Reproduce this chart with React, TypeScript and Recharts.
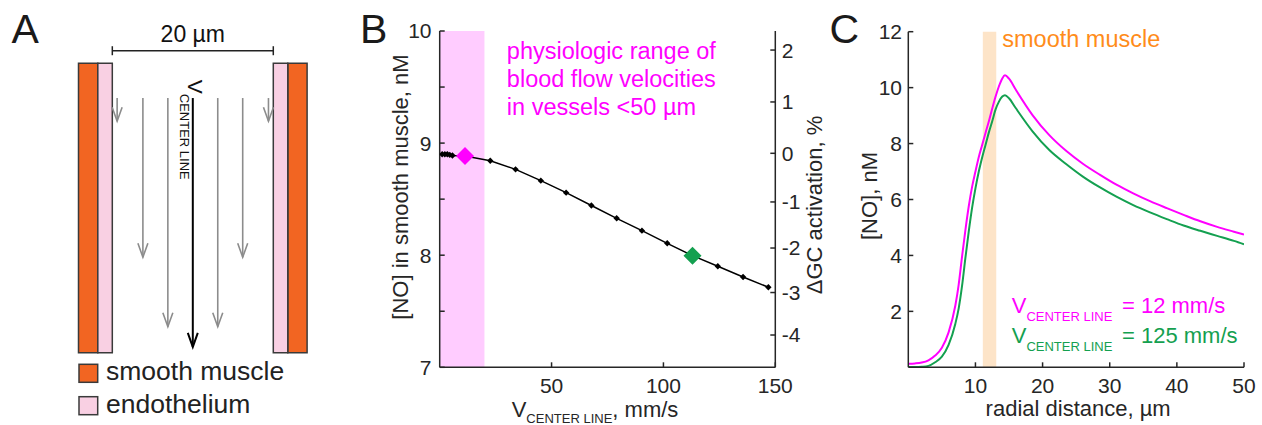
import React from 'react';
import {
  ComposedChart,
  Line,
  XAxis,
  YAxis,
  ReferenceArea,
  ReferenceLine,
} from 'recharts';

const FONT = '"Liberation Sans", Arial, Helvetica, sans-serif';
const INK = '#262626';
const MAGENTA = '#ff00ff';
const GREEN = '#14a050';
const MUSCLE = '#f26522';
const ENDO = '#f9d0e3';
const EDGE = '#3a3a3a';
const ARROW_GRAY = '#8c8c8c';

// ---- A: vessel schematic (x: µm from centre line, y: % of drawn vessel length)
const muscleLayers = [[-14.2, -11.8], [11.8, 14.2]];
const endoLayers = [[-11.8, -10], [10, 11.8]];
const lumenEdges = [-10, 10];
const flowX = [-9.4, -6.2, -3.1, 0, 3.1, 6.2, 9.4];
const flowEnd = [20, 67, 91, 98, 91, 67, 20];
const flowStart = 12;
const scaleBarLevel = -4.35;

// ---- B: [NO] in smooth muscle vs centre-line velocity
const velocity = [1.1, 2.3, 3.4, 4.5, 5.7, 11.3, 22.6, 33.9, 45.2, 56.5, 67.8, 79.1, 90.4, 101.7, 113, 124.3, 135.6, 146.9];
const noInMuscle = [8.9, 8.9, 8.9, 8.895, 8.89, 8.885, 8.843, 8.766, 8.665, 8.558, 8.443, 8.329, 8.219, 8.106, 7.996, 7.901, 7.806, 7.714];
const slowVelocity = 11.3;
const fastVelocity = 113;
const physioRange = [0, 20];
const noTicks = [7, 7.5, 8, 8.5, 9, 9.5, 10];
const velocityTicks = [50, 100, 150];
const gcLabels = [2, 1, 0, -1, -2, -3, -4];
const gcAtNO = [9.83, 9.367, 8.909, 8.475, 8.064, 7.667, 7.288];

// ---- C: radial [NO] profiles
const radial = [0, 1, 2, 3, 4, 5, 6, 7, 7.5, 8, 8.5, 9, 9.5, 10, 10.5, 11, 11.5, 12, 12.5, 13, 13.5, 14, 14.4, 15, 16, 18.5, 21, 23.5, 26, 28.5, 31, 33.5, 36, 38.5, 41, 43.5, 46, 48.5, 50];
const noSlowFlow = [0.13, 0.14, 0.17, 0.25, 0.42, 0.7, 1.25, 2.2, 2.95, 3.95, 4.9, 5.75, 6.45, 7.0, 7.52, 7.95, 8.38, 8.8, 9.25, 9.68, 10.05, 10.33, 10.44, 10.32, 9.93, 9.02, 8.3, 7.74, 7.28, 6.89, 6.53, 6.22, 5.94, 5.69, 5.45, 5.22, 5.02, 4.85, 4.75];
const noFastFlow = [0.01, 0.01, 0.02, 0.05, 0.18, 0.38, 0.8, 1.55, 2.1, 2.9, 3.9, 4.85, 5.7, 6.4, 7.0, 7.5, 7.95, 8.4, 8.8, 9.22, 9.5, 9.68, 9.73, 9.62, 9.27, 8.44, 7.77, 7.27, 6.82, 6.44, 6.1, 5.8, 5.54, 5.3, 5.07, 4.88, 4.7, 4.52, 4.4];
const muscleBand = [11.1, 13.1];
const radialTicks = [10, 20, 30, 40, 50];
const cNoTicks = [2, 4, 6, 8, 10, 12];
const legendC = [
  { text: '= 12 mm/s', color: MAGENTA },
  { text: '= 125 mm/s', color: GREEN },
];

const axisLine = { stroke: INK, strokeWidth: 1.5 };
const tickText = { fontSize: 21, fill: INK, fontFamily: FONT };

function Diamond({ cx, cy, r, fill }: any) {
  if (cx == null || cy == null) return null;
  return <path d={`M${cx},${cy - r}L${cx + r},${cy}L${cx},${cy + r}L${cx - r},${cy}Z`} fill={fill} />;
}

function FlowArrow(props: any) {
  const { x1, y1, x2, y2, color, width, withLabel } = props;
  return (
    <g>
      <line x1={x1} y1={y1} x2={x2} y2={y2} stroke={color} strokeWidth={width} />
      <polyline
        points={`${x2 - 5},${y2 - 14} ${x2},${y2} ${x2 + 5},${y2 - 14}`}
        fill="none"
        stroke={color}
        strokeWidth={width}
      />
      {withLabel && (
        <text transform={`translate(${x1 - 4.7},${y1 - 18.3}) rotate(90)`} fontSize={21} fill="#111" fontFamily={FONT}>
          V<tspan fontSize={13} dy={8}>CENTER LINE</tspan>
        </text>
      )}
    </g>
  );
}

function ScaleBar(props: any) {
  const { x1, y1, x2, y2 } = props;
  return (
    <g>
      <g stroke="#222" strokeWidth={1.5}>
        <line x1={x1} y1={y1} x2={x2} y2={y2} />
        <line x1={x1} y1={y1 - 4.5} x2={x1} y2={y1 + 4.5} />
        <line x1={x2} y1={y2 - 4.5} x2={x2} y2={y2 + 4.5} />
      </g>
      <text x={(x1 + x2) / 2} y={y1 - 9} textAnchor="middle" fontSize={23} fill="#111" fontFamily={FONT}>
        {`${lumenEdges[1] - lumenEdges[0]} µm`}
      </text>
    </g>
  );
}

function PanelA() {
  const walls = [
    ...muscleLayers.map((b) => ({ b, fill: MUSCLE })),
    ...endoLayers.map((b) => ({ b, fill: ENDO })),
  ];
  return (
    <ComposedChart width={360} height={360} margin={{ top: 19.9, right: 52.9, bottom: 7.3, left: 78.5 }}>
      <XAxis type="number" dataKey="x" domain={[-14.2, 14.2]} hide allowDataOverflow />
      <YAxis type="number" domain={[-15, 100]} reversed hide allowDataOverflow />
      {walls.map((w, i) => (
        <ReferenceArea
          key={`wall-${i}`}
          x1={w.b[0]}
          x2={w.b[1]}
          y1={0}
          y2={100}
          fill={w.fill}
          fillOpacity={1}
          stroke={EDGE}
          strokeWidth={1.5}
          ifOverflow="visible"
        />
      ))}
      {flowX.map((x, i) => (
        <ReferenceLine
          key={`flow-${i}`}
          segment={[{ x, y: flowStart }, { x, y: flowEnd[i] }]}
          ifOverflow="visible"
          shape={(p: any) => (
            <FlowArrow
              {...p}
              color={x === 0 ? '#000' : ARROW_GRAY}
              width={x === 0 ? 2 : 1.6}
              withLabel={x === 0}
            />
          )}
        />
      ))}
      <ReferenceLine
        segment={[{ x: lumenEdges[0], y: scaleBarLevel }, { x: lumenEdges[1], y: scaleBarLevel }]}
        ifOverflow="visible"
        shape={(p: any) => <ScaleBar {...p} />}
      />
    </ComposedChart>
  );
}

function PanelB() {
  const data = velocity.map((v, i) => ({ v, no: noInMuscle[i] }));
  const slow = data.filter((d) => d.v === slowVelocity);
  const fast = data.filter((d) => d.v === fastVelocity);
  return (
    <ComposedChart width={470} height={425} data={data} margin={{ top: 31, right: 14.7, bottom: 7.7, left: 0 }}>
      <XAxis
        type="number"
        dataKey="v"
        domain={[0, 150]}
        ticks={velocityTicks}
        interval={0}
        height={50}
        allowDataOverflow
        axisLine={axisLine}
        tickLine={axisLine}
        tickSize={-5}
        tickMargin={15.5}
        tick={tickText}
        label={(p: any) => {
          const vb = p.viewBox || {};
          return (
            <text x={vb.x + 155.3} y={vb.y + 49.2} textAnchor="middle" fontSize={22} fill={INK} fontFamily={FONT}>
              V<tspan fontSize={13} dy={6.5}>CENTER LINE</tspan>
              <tspan dy={-6.5}>, mm/s</tspan>
            </text>
          );
        }}
      />
      <YAxis
        yAxisId="no"
        domain={[7, 10]}
        ticks={noTicks}
        interval={0}
        width={79.7}
        allowDataOverflow
        axisLine={axisLine}
        tickLine={axisLine}
        tickSize={-5}
        tickMargin={13.2}
        tick={tickText}
        tickFormatter={(v: number) => (Number.isInteger(v) ? String(v) : '')}
        label={(p: any) => {
          const vb = p.viewBox || {};
          return (
            <text
              transform={`translate(${vb.x + 48},${vb.y + 156}) rotate(-90)`}
              textAnchor="middle"
              fontSize={22}
              fill={INK}
              fontFamily={FONT}
            >
              [NO] in smooth muscle, nM
            </text>
          );
        }}
      />
      <YAxis
        yAxisId="gc"
        orientation="right"
        domain={[7, 10]}
        ticks={gcAtNO}
        interval={0}
        width={40}
        allowDataOverflow
        axisLine={axisLine}
        tickLine={axisLine}
        tickSize={-5}
        tickMargin={11.4}
        tick={tickText}
        tickFormatter={(v: number) => String(gcLabels[gcAtNO.indexOf(v)])}
        label={(p: any) => {
          const vb = p.viewBox || {};
          return (
            <text
              transform={`translate(${vb.x + 46.7},${vb.y + 174}) rotate(-90)`}
              textAnchor="middle"
              fontSize={22}
              fill={INK}
              fontFamily={FONT}
            >
              ΔGC activation, %
            </text>
          );
        }}
      />
      <ReferenceArea
        yAxisId="no"
        x1={physioRange[0]}
        x2={physioRange[1]}
        y1={7}
        y2={10}
        fill="#ffccff"
        fillOpacity={1}
        stroke="none"
        label={(p: any) => {
          const vb = p.viewBox || {};
          const x = vb.x + vb.width + 22.4;
          return (
            <text fontSize={23.5} fill={MAGENTA} fontFamily={FONT}>
              <tspan x={x} y={vb.y + 27.7}>physiologic range of</tspan>
              <tspan x={x} y={vb.y + 56}>blood flow velocities</tspan>
              <tspan x={x} y={vb.y + 84.3}>in vessels &lt;50 µm</tspan>
            </text>
          );
        }}
      />
      <Line
        yAxisId="no"
        dataKey="no"
        stroke="#000"
        strokeWidth={1.5}
        isAnimationActive={false}
        dot={(p: any) => <Diamond key={`b-${p.index}`} cx={p.cx} cy={p.cy} r={3.2} fill="#000" />}
        activeDot={false}
      />
      <Line
        yAxisId="no"
        data={slow}
        dataKey="no"
        stroke="none"
        strokeWidth={0}
        isAnimationActive={false}
        dot={(p: any) => <Diamond key={`s-${p.index}`} cx={p.cx} cy={p.cy} r={9} fill={MAGENTA} />}
        activeDot={false}
      />
      <Line
        yAxisId="no"
        data={fast}
        dataKey="no"
        stroke="none"
        strokeWidth={0}
        isAnimationActive={false}
        dot={(p: any) => <Diamond key={`f-${p.index}`} cx={p.cx} cy={p.cy} r={9} fill={GREEN} />}
        activeDot={false}
      />
    </ComposedChart>
  );
}

function PanelC() {
  const data = radial.map((r, i) => ({ r, slow: noSlowFlow[i], fast: noFastFlow[i] }));
  return (
    <ComposedChart width={432} height={425} data={data} margin={{ top: 31.7, right: 18, bottom: 7.7, left: 0 }}>
      <XAxis
        type="number"
        dataKey="r"
        domain={[0, 50]}
        ticks={radialTicks}
        interval={0}
        height={50}
        allowDataOverflow
        axisLine={axisLine}
        tickLine={axisLine}
        tickSize={-5}
        tickMargin={15.5}
        tick={tickText}
        label={(p: any) => {
          const vb = p.viewBox || {};
          return (
            <text x={vb.x + vb.width / 2 + 2} y={vb.y + 48.7} textAnchor="middle" fontSize={22} fill={INK} fontFamily={FONT}>
              radial distance, µm
            </text>
          );
        }}
      />
      <YAxis
        domain={[0, 12]}
        ticks={cNoTicks}
        interval={0}
        width={78.3}
        allowDataOverflow
        axisLine={axisLine}
        tickLine={axisLine}
        tickSize={-5}
        tickMargin={11.3}
        tick={tickText}
        label={(p: any) => {
          const vb = p.viewBox || {};
          return (
            <text
              transform={`translate(${vb.x + 47},${vb.y + 164.3}) rotate(-90)`}
              textAnchor="middle"
              fontSize={22}
              fill={INK}
              fontFamily={FONT}
            >
              [NO], nM
            </text>
          );
        }}
      />
      <ReferenceArea
        x1={muscleBand[0]}
        x2={muscleBand[1]}
        y1={0}
        y2={12}
        fill="#fde4c8"
        fillOpacity={1}
        stroke="none"
        label={(p: any) => {
          const vb = p.viewBox || {};
          return (
            <text x={vb.x + vb.width + 6} y={vb.y + 15.3} fontSize={23.5} fill="#ff8c1a" fontFamily={FONT}>
              smooth muscle
            </text>
          );
        }}
      />
      <Line type="monotone" dataKey="fast" stroke={GREEN} strokeWidth={2} dot={false} activeDot={false} isAnimationActive={false} />
      <Line type="monotone" dataKey="slow" stroke={MAGENTA} strokeWidth={2} dot={false} activeDot={false} isAnimationActive={false} />
    </ComposedChart>
  );
}

function Overlay() {
  const letter = { fontSize: 41, fill: '#1a1a1a', fontFamily: FONT };
  return (
    <svg width={1262} height={425} style={{ position: 'absolute', left: 0, top: 0, pointerEvents: 'none' }}>
      <text x={11.5} y={42.7} {...letter}>A</text>
      <text x={360.1} y={42.7} {...letter}>B</text>
      <text x={829.6} y={42.7} {...letter}>C</text>

      <rect x={79} y={364.3} width={18.7} height={18} fill={MUSCLE} stroke={EDGE} strokeWidth={1.5} />
      <rect x={79} y={396.7} width={18.7} height={18} fill={ENDO} stroke={EDGE} strokeWidth={1.5} />
      <text x={106} y={380} fontSize={26.5} fill="#222" fontFamily={FONT}>smooth muscle</text>
      <text x={106} y={412.7} fontSize={26.5} fill="#222" fontFamily={FONT}>endothelium</text>

      {legendC.map((e, i) => (
        <text key={e.text} x={1011.7} y={313.3 + i * 30} fontSize={22} fill={e.color} fontFamily={FONT}>
          V<tspan fontSize={13} dy={7.2}>CENTER LINE</tspan>
          <tspan x={1122} dy={-7.2}>{e.text}</tspan>
        </text>
      ))}
    </svg>
  );
}

export default function App() {
  return (
    <div style={{ position: 'absolute', left: 0, top: 0, width: 1262, height: 425, background: '#fff', fontFamily: FONT }}>
      <div style={{ position: 'absolute', left: 0, top: 0 }}>
        <PanelA />
      </div>
      <div style={{ position: 'absolute', left: 360, top: 0 }}>
        <PanelB />
      </div>
      <div style={{ position: 'absolute', left: 830, top: 0 }}>
        <PanelC />
      </div>
      <Overlay />
    </div>
  );
}
